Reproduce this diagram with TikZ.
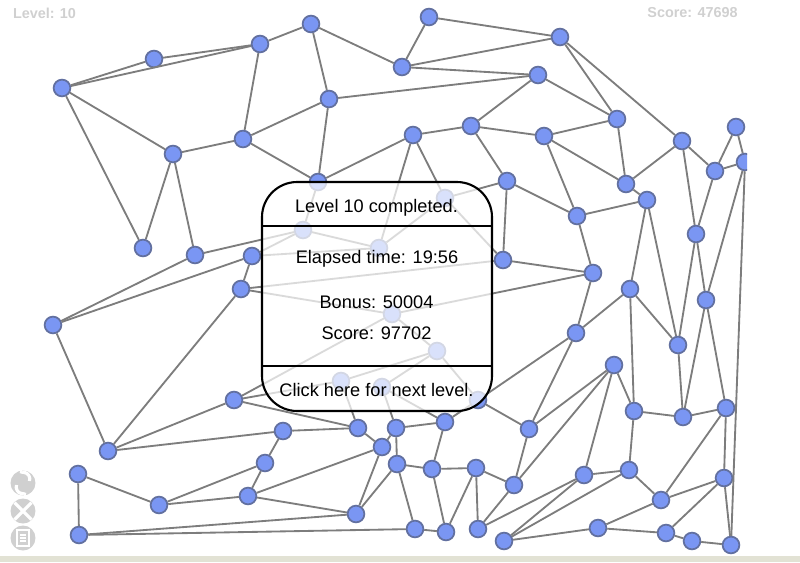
\documentclass[tikz,border=0pt]{standalone}
\usepackage{fontspec}
\setmainfont{Liberation Sans}
\usetikzlibrary{arrows.meta}
\definecolor{dotblue}{RGB}{122,150,243}
\definecolor{dotline}{RGB}{98,112,160}
\definecolor{edgegray}{RGB}{125,125,125}
\definecolor{hudgray}{RGB}{208,208,208}
\definecolor{barbeige}{RGB}{226,226,212}
\tikzset{
    dot/.style={circle,draw=dotline,fill=dotblue,line width=1pt,minimum size=0.335cm,inner sep=0pt},
    edge/.style={draw=edgegray,line width=1.05pt},
    panel/.style={draw=black,line width=1.2pt},
    paneltext/.style={font=\fontsize{10.35}{12}\selectfont,inner sep=0pt},
    hud/.style={text=hudgray,font=\bfseries\fontsize{8.2}{10}\selectfont,inner sep=0pt},
    icon/.style={circle,fill=hudgray,minimum size=0.5cm,inner sep=0pt},
}
\begin{document}
\begin{tikzpicture}[x=0.02cm,y=-0.02cm]
    \useasboundingbox (0,0) rectangle (800,562);
    \fill[barbeige] (0,556) rectangle (800,562);
    \node[hud] (level) at (44.5,13) {Level: 10};
    \node[hud] (score) at (692.5,13) {Score: 47698};
    % graph, cut off at the right edge of the play area
    \begin{scope}
        \clip (0,0) rectangle (747,555);
        \foreach \name/\px/\py in {1/62/88,2/154/59,3/260/44,4/311/24,5/329/99,6/243/139,7/173/154,8/143/248,
            9/195/255,10/318/182,11/429/17,12/402/67,13/560/37,14/538/75,15/413/135,16/471/126,17/544/136,
            18/617/119,19/626/184,20/682/141,21/715/171,22/736/127,23/745/162,24/507/181,25/445/198,26/577/216,
            27/647/200,28/696/234,29/503/260,30/593/273,31/303/230,32/379/248,33/252/256,34/241/289,35/53/325,
            36/392/314,37/630/289,38/706/300,39/576/333,40/678/345,41/437/351,42/341/381,43/382/387,44/478/400,
            45/234/400,46/614/365,47/634/411,48/683/417,49/726/408,50/108/451,51/283/431,52/358/428,53/396/428,
            54/445/422,55/382/447,56/529/429,57/265/463,58/397/464,59/432/469,60/476/468,61/514/485,62/584/475,
            63/629/470,64/78/474,65/159/505,66/248/496,67/356/514,68/415/529,69/446/532,70/478/529,71/504/541,
            72/598/528,73/661/500,74/724/478,75/666/533,76/692/541,77/731/545,78/79/535}
            \node[dot] (n\name) at (\px,\py) {};
        \foreach \a/\b in {1/2,1/3,2/3,3/4,3/6,4/5,4/12,1/7,1/8,7/6,7/8,7/9,6/5,6/10,5/10,5/14,12/11,12/13,12/14,
            11/13,13/18,13/20,14/18,14/16,15/16,16/17,17/18,18/19,17/19,16/24,19/20,20/21,21/22,21/23,22/23,
            15/10,15/25,15/32,24/25,24/29,24/26,17/26,19/27,26/27,26/30,29/30,30/36,25/29,25/32,29/34,
            9/31,9/35,10/31,31/32,31/33,33/32,33/34,33/35,34/36,34/50,36/45,36/41,41/42,41/43,41/44,42/45,42/52,
            43/53,43/54,44/54,44/56,44/39,39/56,46/56,46/61,46/62,46/47,47/63,47/48,48/49,47/37,48/40,48/38,
            49/38,62/63,63/73,73/49,73/74,73/72,72/75,75/76,76/77,75/74,74/49,74/77,77/23,71/72,71/62,71/63,
            70/62,70/61,61/60,56/61,60/59,59/58,58/53,53/54,53/55,52/55,54/59,59/69,60/69,60/70,58/68,68/69,
            58/67,55/67,55/66,66/67,57/51,57/66,66/65,57/65,65/64,64/78,78/67,78/68,51/52,51/50,50/45,50/35,
            45/52,20/28,21/28,28/40,28/38,23/38,27/37,27/40,37/40,37/39,30/39}
            \draw[edge] (n\a) -- (n\b);
    \end{scope}
    % dialog laid over the graph
    \fill[white,fill opacity=0.72,rounded corners=20] (262,182) rectangle (492,411);
    \draw[panel,rounded corners=20] (262,182) rectangle (492,411);
    \draw[panel] (262,226) -- (492,226);
    \draw[panel] (262,366) -- (492,366);
    \node[paneltext] (done) at (376.5,208) {Level 10 completed.};
    \node[paneltext] (time) at (377,259) {Elapsed time: 19:56};
    \node[paneltext] (bonus) at (376.5,302.5) {Bonus: 50004};
    \node[paneltext] (total) at (376.5,333) {Score: 97702};
    \node[paneltext] (next) at (376.5,390) {Click here for next level.};
    % buttons
    \node[icon] (redo) at (23,483) {};
    \node[icon] (quit) at (23,511) {};
    \node[icon] (menu) at (23,538) {};
    \draw[white,line width=1.8pt,-{Stealth[length=2.5pt,width=4.5pt]}] (redo.center) ++(-6.5,2) arc[start angle=197,end angle=60,radius=6.8];
    \draw[white,line width=1.8pt,-{Stealth[length=2.5pt,width=4.5pt]}] (redo.center) ++(6.5,-2) arc[start angle=17,end angle=-120,radius=6.8];
    \draw[white,line width=1.8pt] (quit.center) ++(-8.5,-8.5) -- ++(17,17) ++(-17,0) -- ++(17,-17);
    \draw[white,line width=0.8pt] (menu.center) ++(-6,-8) rectangle ++(12,16);
    \draw[white,line width=0.6pt] (menu.center) ++(-3,-3) -- ++(6,0) ++(-6,3) -- ++(6,0) ++(-6,3) -- ++(6,0);
\end{tikzpicture}
\end{document}
